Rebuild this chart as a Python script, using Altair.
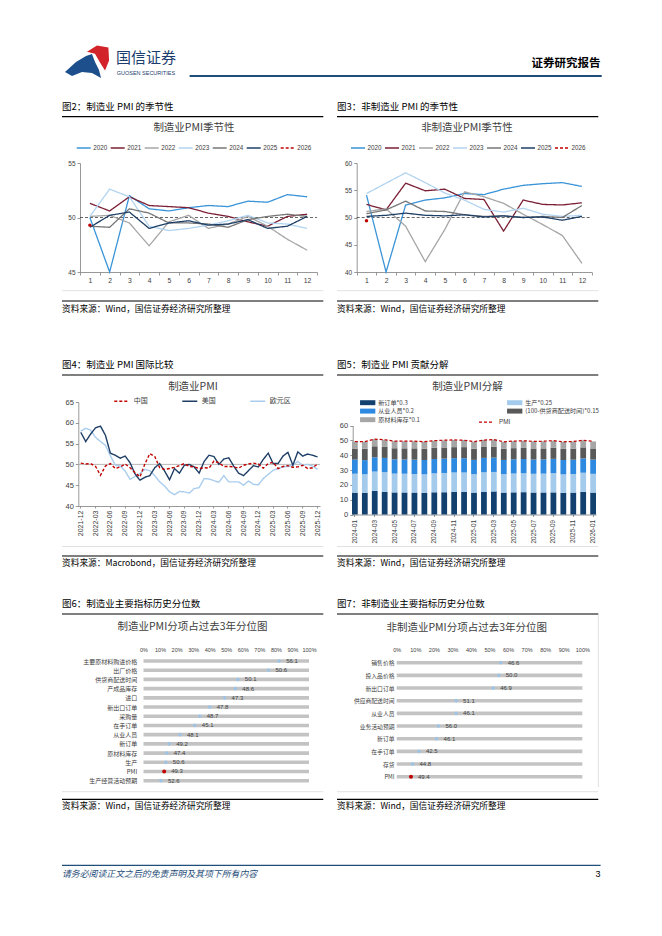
import altair as alt
import pandas as pd

# ---------------- data ----------------
YEARS = ["2020", "2021", "2022", "2023", "2024", "2025", "2026"]
YCOLORS = ["#3a94d8", "#7b1f34", "#a6a6a6", "#b3d4f0", "#777777", "#1e3f66", "#c00000"]
YDASH = [[1, 0], [1, 0], [1, 0], [1, 0], [1, 0], [1, 0], [3, 2]]

MFG = {
    "2020": [50.0, 35.7, 52.0, 50.8, 50.6, 50.9, 51.1, 51.0, 51.5, 51.4, 52.1, 51.9],
    "2021": [51.3, 50.6, 51.9, 51.1, 51.0, 50.9, 50.4, 50.1, 49.6, 49.2, 50.1, 50.3],
    "2022": [50.1, 50.2, 49.5, 47.4, 49.6, 50.2, 49.0, 49.4, 50.1, 49.2, 48.0, 47.0],
    "2023": [50.1, 52.6, 51.9, 49.2, 48.8, 49.0, 49.3, 49.7, 50.2, 49.5, 49.4, 49.0],
    "2024": [49.2, 49.1, 50.8, 50.4, 49.5, 49.5, 49.4, 49.1, 49.8, 50.1, 50.3, 50.1],
    "2025": [49.1, 50.2, 50.5, 49.0, 49.5, 49.7, 49.3, 49.4, 49.8, 49.0, 49.2, 50.1],
    "2026": [49.3],
}
NMFG = {
    "2020": [54.1, 29.6, 52.3, 53.2, 53.6, 54.4, 54.2, 55.2, 55.9, 56.2, 56.4, 55.7],
    "2021": [52.4, 51.4, 56.3, 54.9, 55.2, 53.5, 53.3, 47.5, 53.2, 52.4, 52.3, 52.7],
    "2022": [51.1, 51.6, 48.4, 41.9, 47.8, 54.7, 53.8, 52.6, 50.6, 48.7, 46.7, 41.6],
    "2023": [54.4, 56.3, 58.2, 56.4, 54.5, 53.2, 51.5, 51.0, 51.7, 50.6, 50.2, 50.4],
    "2024": [50.7, 51.4, 53.0, 51.2, 51.1, 50.5, 50.2, 50.3, 50.0, 50.2, 50.0, 52.2],
    "2025": [50.2, 50.4, 50.8, 50.4, 50.3, 50.5, 50.1, 50.3, 50.0, 50.1, 49.5, 50.2],
    "2026": [49.4],
}

MONTHS4 = ["2021-12"] + [f"{y}-{m:02d}" for y in (2022, 2023, 2024, 2025) for m in range(1, 13)]
MONTHS4_TICKS = MONTHS4[::3]
SERIES4 = ["中国", "美国", "欧元区"]
COLORS4 = ["#c00000", "#1f3f66", "#a9cdee"]
US = [57.7,
      55.5, 57.3, 58.8, 59.2, 57.0, 52.7, 52.2, 51.5, 52.0, 50.4, 47.7, 46.2,
      46.9, 47.3, 49.2, 50.2, 48.4, 46.3, 49.0, 47.9, 49.8, 50.0, 49.4, 47.9,
      50.7, 52.2, 51.9, 50.0, 51.3, 51.6, 49.6, 47.9, 47.3, 48.5, 49.7, 49.4,
      51.2, 52.7, 50.2, 50.2, 52.0, 52.9, 49.8, 53.0, 52.0, 52.5, 52.2, 51.8]
EZ = [58.0,
      58.7, 58.2, 56.5, 55.5, 54.6, 52.1, 49.8, 49.6, 48.4, 46.4, 47.1, 47.8,
      48.8, 48.5, 47.3, 45.8, 44.8, 43.4, 42.7, 43.5, 43.4, 43.1, 44.2, 44.4,
      46.6, 46.5, 46.1, 45.7, 47.3, 45.8, 45.8, 45.8, 45.0, 46.0, 45.2, 45.1,
      46.6, 47.6, 48.6, 49.0, 49.4, 49.5, 49.8, 50.7, 49.8, 50.0, 49.6, 48.8]
CN = [50.3] + MFG["2022"] + MFG["2023"] + MFG["2024"] + MFG["2025"]

MONTHS5 = [f"{y}-{m:02d}" for y in (2024, 2025) for m in range(1, 13)] + ["2026-01"]
MONTHS5_TICKS = MONTHS5[::2]
PMI5 = MFG["2024"] + MFG["2025"] + MFG["2026"]
NEW_ORDERS = [49.0, 49.0, 53.0, 51.1, 49.6, 49.5, 49.3, 48.9, 49.9, 50.0, 50.8, 51.0,
              49.2, 51.1, 51.8, 49.2, 49.8, 50.2, 49.4, 49.5, 49.7, 48.8, 49.2, 50.8, 49.2]
PRODUCTION = [51.3, 49.8, 52.2, 52.9, 50.8, 50.6, 50.1, 49.8, 51.2, 52.0, 52.4, 52.1,
              49.8, 52.5, 52.6, 49.8, 50.7, 51.0, 50.5, 50.8, 51.9, 49.7, 50.0, 51.7, 50.6]
EMPLOYMENT = [47.6, 47.5, 48.1, 48.0, 48.1, 48.1, 48.3, 48.1, 48.2, 48.4, 48.2, 48.1,
              48.1, 48.6, 48.2, 47.9, 48.1, 48.0, 48.0, 47.9, 48.2, 48.3, 48.4, 48.2, 48.1]
DELIVERY = [50.8, 48.8, 50.6, 50.4, 50.2, 50.1, 49.3, 49.6, 49.8, 50.1, 50.5, 50.2,
            50.1, 51.0, 50.3, 50.2, 50.0, 50.2, 50.3, 50.5, 50.8, 50.0, 50.1, 50.4, 50.1]
INVENTORY = [48.1, 47.4, 48.1, 47.8, 47.6, 47.6, 47.8, 47.6, 47.5, 47.3, 48.2, 48.3,
             47.4, 48.0, 47.2, 47.0, 47.4, 48.0, 48.0, 48.0, 48.5, 47.3, 47.7, 48.1, 47.4]
COMP5 = ["新订单*0.3", "生产*0.25", "从业人员*0.2", "(100-供货商配送时间)*0.15", "原材料库存*0.1"]
COLORS5 = ["#12406f", "#a4cbec", "#2d8ae0", "#595959", "#a6a6a6"]

CATS6 = ["主要原材料购进价格", "出厂价格", "供货商配送时间", "产成品库存", "进口", "新出口订单", "采购量",
         "在手订单", "从业人员", "新订单", "原材料库存", "生产", "PMI", "生产经营活动预期"]
PCT6 = [0.82, 0.755, 0.57, 0.555, 0.49, 0.40, 0.34, 0.31, 0.22, 0.155, 0.14, 0.135, 0.125, 0.105]
VAL6 = [56.1, 50.6, 50.1, 48.6, 47.3, 47.8, 48.7, 45.1, 48.1, 49.2, 47.4, 50.6, 49.3, 52.6]

CATS7 = ["销售价格", "投入品价格", "新出口订单", "供应商配送时间", "从业人员", "业务活动预期",
         "新订单", "在手订单", "存货", "PMI"]
PCT7 = [0.56, 0.55, 0.52, 0.32, 0.32, 0.225, 0.215, 0.12, 0.085, 0.077]
VAL7 = [46.6, 50.0, 46.9, 51.1, 46.1, 56.0, 46.1, 42.5, 44.8, 49.4]
PCT_TICKS = [0, 0.1, 0.2, 0.3, 0.4, 0.5, 0.6, 0.7, 0.8, 0.9, 1.0]

# ---------------- helpers ----------------
CJK = "Noto Sans CJK SC"
LAT = "Liberation Sans"
W, H = 646, 920
NAVY = "#1f4e79"


def X(x):
    return x - 8


def Y(y):
    return y - 8


DUMMY = pd.DataFrame({"k": [0]})


def txt(t, x, y, size, color="#000000", align="left", weight="normal", font=CJK, style="normal"):
    return alt.Chart(DUMMY).mark_text(
        text=t, align=align, baseline="middle", fontSize=size, color=color,
        font=font, fontWeight=weight, fontStyle=style
    ).encode(x=alt.value(X(x)), y=alt.value(Y(y)))


def hline(x1, x2, y, color="#000000", w=1.0):
    return alt.Chart(DUMMY).mark_rule(color=color, strokeWidth=w).encode(
        x=alt.value(X(x1)), x2=alt.value(X(x2)), y=alt.value(Y(y)))


def vline(x, y1, y2, color, w=1.0):
    return alt.Chart(DUMMY).mark_rule(color=color, strokeWidth=w).encode(
        x=alt.value(X(x)), y=alt.value(Y(y1)), y2=alt.value(Y(y2)))


def ax(**kw):
    base = dict(title=None, grid=False, labelFont=LAT, labelColor="#404040",
                domainColor="#7f7f7f", tickColor="#7f7f7f", domainWidth=0.8, tickWidth=0.8)
    base.update(kw)
    return alt.Axis(**base)


# ---------------- seasonality charts ----------------
def season(series, x0, x1, yb, yt, dom, vals, legx, legy):
    rows = [{"year": y, "m": i + 1, "v": v} for y, arr in series.items() for i, v in enumerate(arr)]
    df = pd.DataFrame(rows)
    leg = alt.Legend(orient="none", legendX=X(legx), legendY=Y(legy) - 7, direction="horizontal",
                     columns=7, symbolType="stroke", symbolSize=196, symbolStrokeWidth=1.5,
                     labelFont=LAT, labelFontSize=6.3, labelColor="#404040", labelOffset=1.5,
                     columnPadding=0, rowPadding=0, padding=0)
    xenc = alt.X("m:O", scale=alt.Scale(type="band", range=[X(x0), X(x1)], paddingInner=0, paddingOuter=0),
                 axis=ax(orient="bottom", offset=Y(yb) - H, tickBand="extent", tickSize=3, labelAngle=0,
                         labelFontSize=6.8, labelPadding=2))
    yenc = alt.Y("v:Q", scale=alt.Scale(domain=dom, range=[Y(yb), Y(yt)], clamp=True, nice=False, zero=False),
                 axis=ax(orient="left", offset=-X(x0), values=vals, format="d", tickSize=3, labelFontSize=6.5,
                         labelPadding=2))
    ref = alt.Chart(DUMMY).mark_rule(color="#404040", strokeWidth=0.8, strokeDash=[3, 2]).encode(
        y=alt.datum(50), x=alt.value(X(x0)), x2=alt.value(X(x1)))
    lines = alt.Chart(df).mark_line(strokeWidth=1.3).encode(
        x=xenc, y=yenc,
        color=alt.Color("year:N", title=None, scale=alt.Scale(domain=YEARS, range=YCOLORS), legend=leg),
        strokeDash=alt.StrokeDash("year:N", title=None, scale=alt.Scale(domain=YEARS, range=YDASH), legend=leg))
    dot = alt.Chart(df[df.year == "2026"]).mark_point(filled=True, color="#c00000", size=12, opacity=1).encode(
        x="m:O", y="v:Q")
    return alt.layer(ref, lines, dot)


fig2 = season(MFG, 80, 317, 272, 163, [45, 55], [45, 50, 55], 75.7, 146.7)
fig3 = season(NMFG, 356.7, 591.7, 272, 163, [40, 60], [40, 45, 50, 55, 60], 350, 146.7)

# ---------------- fig4: international ----------------
df4 = pd.DataFrame({"month": MONTHS4 * 3,
                    "series": ["欧元区"] * len(EZ) + ["美国"] * len(US) + ["中国"] * len(CN),
                    "v": EZ + US + CN})
leg4 = alt.Legend(orient="none", legendX=X(113.3), legendY=Y(400) - 7.5, direction="horizontal", columns=3,
                  symbolType="stroke", symbolSize=225, symbolStrokeWidth=1.5, labelFont=CJK,
                  labelFontSize=7, labelColor="#404040", labelOffset=3.4, columnPadding=31,
                  rowPadding=0, padding=0)
ref4 = alt.Chart(DUMMY).mark_rule(color="#a6a6a6", strokeWidth=0.8).encode(
    y=alt.datum(50), x=alt.value(X(78.3)), x2=alt.value(X(320)))
lines4 = alt.Chart(df4).mark_line(strokeWidth=1.4).encode(
    x=alt.X("month:O", sort=MONTHS4,
            scale=alt.Scale(type="band", domain=MONTHS4, range=[X(78.3), X(320)], paddingInner=0, paddingOuter=0),
            axis=ax(orient="bottom", offset=Y(506) - H, values=MONTHS4_TICKS, labelAngle=270, tickSize=2,
                    labelFontSize=7, labelPadding=2)),
    y=alt.Y("v:Q", scale=alt.Scale(domain=[40, 65], range=[Y(506), Y(402)], nice=False, zero=False),
            axis=ax(orient="left", offset=-X(78.3), values=[40, 45, 50, 55, 60, 65], tickSize=3,
                    labelFontSize=7.5, labelPadding=2)),
    color=alt.Color("series:N", title=None, scale=alt.Scale(domain=SERIES4, range=COLORS4), legend=leg4),
    strokeDash=alt.StrokeDash("series:N", title=None,
                              scale=alt.Scale(domain=SERIES4, range=[[3, 2], [1, 0], [1, 0]]), legend=leg4))
fig4 = alt.layer(ref4, lines4)

# ---------------- fig5: decomposition ----------------
weights = [0.3, 0.25, 0.2, 0.15, 0.1]
raw5 = [NEW_ORDERS, PRODUCTION, EMPLOYMENT, [100 - d for d in DELIVERY], INVENTORY]
rows5 = []
for k, (name, w, arr) in enumerate(zip(COMP5, weights, raw5)):
    for mth, v in zip(MONTHS5, arr):
        rows5.append({"month": mth, "comp": name, "val": round(v * w, 3), "ord": k})
df5 = pd.DataFrame(rows5)
dfp = pd.DataFrame({"month": MONTHS5, "pmi": PMI5, "s": ["PMI"] * len(MONTHS5)})
leg5 = alt.Legend(orient="none", legendX=X(363.2), legendY=Y(402.5) - 4.5, direction="horizontal", columns=2,
                  symbolType="M-1.7,-0.55L1.7,-0.55L1.7,0.55L-1.7,0.55Z", symbolSize=81, symbolStrokeWidth=0,
                  symbolOpacity=1, labelFont=CJK, labelFontSize=6.1, labelColor="#404040", labelOffset=6,
                  columnPadding=86, rowPadding=0.6, padding=0)
legp = alt.Legend(orient="none", legendX=X(478), legendY=Y(421.2) - 7.5, symbolType="stroke", symbolSize=225,
                  symbolStrokeWidth=1.2, symbolDash=[3, 2], labelFont=LAT, labelFontSize=6.3,
                  labelColor="#404040", labelOffset=4, padding=0)
x5 = alt.X("month:O", sort=MONTHS5,
           scale=alt.Scale(type="band", domain=MONTHS5, range=[X(352), X(596)], paddingInner=0.42, paddingOuter=0),
           axis=ax(orient="bottom", offset=Y(514.5) - H, values=MONTHS5_TICKS, labelAngle=270, tickSize=2,
                   labelFontSize=6.4, labelPadding=3))
bars5 = alt.Chart(df5).mark_bar().encode(
    x=x5,
    y=alt.Y("val:Q", stack="zero",
            scale=alt.Scale(domain=[0, 60], range=[Y(514.5), Y(425.5)], nice=False),
            axis=ax(orient="left", offset=-X(352.7), values=[0, 10, 20, 30, 40, 50, 60], tickSize=3,
                    labelFontSize=7.5, labelPadding=2)),
    color=alt.Color("comp:N", title=None, scale=alt.Scale(domain=COMP5, range=COLORS5), legend=leg5),
    order=alt.Order("ord:Q", sort="ascending"))
line5 = alt.Chart(dfp).mark_line(strokeWidth=1.2, strokeDash=[3, 2]).encode(
    x=alt.X("month:O", sort=MONTHS5), y="pmi:Q",
    stroke=alt.Stroke("s:N", title=None, scale=alt.Scale(domain=["PMI"], range=["#c00000"]), legend=legp))
fig5 = alt.layer(bars5, line5)


# ---------------- fig6 / fig7: percentile dot plots ----------------
def dotplot(cats, pct, vals, x0, x1, y0, y1, axis_y, label_x, cat_size):
    df = pd.DataFrame({"cat": cats, "pct": pct, "val": vals})
    yenc = alt.Y("cat:N", sort=cats,
                 scale=alt.Scale(type="point", domain=cats, range=[Y(y0), Y(y1)], padding=0),
                 axis=ax(orient="left", offset=-X(label_x + 2), domain=False, ticks=False, tickSize=0,
                         labelPadding=2, labelFont=CJK, labelFontSize=cat_size, labelColor="#404040"))
    xenc = alt.X("pct:Q", scale=alt.Scale(domain=[0, 1], range=[X(x0), X(x1)], nice=False, zero=False),
                 axis=ax(orient="top", offset=-Y(axis_y), values=PCT_TICKS, format=".0%", domain=False,
                         ticks=False, tickSize=0, labelPadding=2, labelFontSize=5.5, labelFlush=False))
    track = alt.Chart(df).mark_rule(color="#c3c3c3", strokeWidth=3.6).encode(
        y=yenc, x=alt.datum(0), x2=alt.datum(1))
    pts = alt.Chart(df[df.cat != "PMI"]).mark_point(filled=True, shape="diamond", size=18,
                                                    color="#9dc3e6", opacity=1).encode(x=xenc, y="cat:N")
    pmi = alt.Chart(df[df.cat == "PMI"]).mark_point(filled=True, shape="circle", size=16,
                                                    color="#c00000", opacity=1).encode(x="pct:Q", y="cat:N")
    lab = alt.Chart(df).mark_text(align="left", baseline="middle", dx=7, fontSize=6, color="#404040",
                                  font=LAT).encode(x="pct:Q", y="cat:N", text=alt.Text("val:Q", format=".1f"))
    return alt.layer(track, pts, pmi, lab)


fig6 = dotplot(CATS6, PCT6, VAL6, 143.5, 309, 661, 780.7, 654, 136.7, 6)
fig7 = dotplot(CATS7, PCT7, VAL7, 396.7, 582.3, 662.7, 776.7, 654, 394, 5.8)

# ---------------- page decorations ----------------
BLUE_LOGO = ("M-0.957,0.435L-0.478,0L-0.043,-0.261L0.217,-0.348L0.348,0L0.522,0.348L0.609,0.696"
             "L0.217,0.478L-0.217,0.435L-0.652,0.609Z")
RED_LOGO = "M0.0,-0.45L0.435,-0.72L0.93,-0.63L0.96,-0.07L0.783,0.37L0.565,0.02L0.348,-0.36Z"
logo_b = alt.Chart(DUMMY).mark_point(shape=BLUE_LOGO, filled=True, size=2116, color="#1d4f8c",
                                     opacity=1, strokeWidth=0).encode(x=alt.value(X(87)), y=alt.value(Y(62)))
logo_r = alt.Chart(DUMMY).mark_point(shape=RED_LOGO, filled=True, size=2116, color="#d2232a",
                                     opacity=1, strokeWidth=0).encode(x=alt.value(X(87)), y=alt.value(Y(62)))

SRC_W = "资料来源：Wind，国信证券经济研究所整理"
SRC_M = "资料来源：Macrobond，国信证券经济研究所整理"

decor = [
    logo_b, logo_r,
    txt("国信证券", 116, 58, 15, color="#1b3d6e"),
    txt("GUOSEN SECURITIES", 116.7, 72.5, 5.5, color="#1b3d6e", font=LAT),
    hline(189.6, 601.7, 76, NAVY, 2),
    txt("证券研究报告", 600.6, 63.5, 11.5, weight="bold", align="right"),
    # row 1
    txt("图2：制造业 PMI 的季节性", 62, 107, 9.5),
    hline(62, 323.3, 116.7, "#000000", 1.2),
    txt("制造业PMI季节性", 194, 128, 10.5, color="#404040", align="center"),
    hline(62, 323.3, 290.7, "#d9d9d9", 0.8),
    hline(62, 323.3, 301, "#000000", 1.2),
    txt(SRC_W, 62, 308.5, 8.7),
    txt("图3：非制造业 PMI 的季节性", 337, 107, 9.5),
    hline(337, 598.3, 116.7, "#000000", 1.2),
    txt("非制造业PMI季节性", 467, 128, 10.5, color="#404040", align="center"),
    hline(337, 598.3, 290.7, "#d9d9d9", 0.8),
    hline(337, 598.3, 301, "#000000", 1.2),
    txt(SRC_W, 337, 308.5, 8.7),
    # row 2
    txt("图4：制造业 PMI 国际比较", 62, 365, 9.5),
    hline(62, 323.3, 375, "#000000", 1.2),
    txt("制造业PMI", 193, 387, 10.5, color="#404040", align="center"),
    hline(62, 323.3, 546.5, "#d9d9d9", 0.8),
    hline(62, 323.3, 556, "#000000", 1.2),
    txt(SRC_M, 62, 563.3, 8.7),
    txt("图5：制造业 PMI 贡献分解", 337, 365, 9.5),
    hline(337, 598.3, 375, "#000000", 1.2),
    txt("制造业PMI分解", 467.5, 386.7, 10.5, color="#404040", align="center"),
    hline(337, 598.3, 546.5, "#d9d9d9", 0.8),
    hline(337, 598.3, 556, "#000000", 1.2),
    txt(SRC_W, 337, 563.3, 8.7),
    # row 3
    txt("图6：制造业主要指标历史分位数", 62, 604, 9.5),
    hline(62, 323.3, 614, "#000000", 1.2),
    txt("制造业PMI分项占过去3年分位图", 192.5, 627.3, 10.5, color="#404040", align="center"),
    hline(62, 323.3, 791.7, "#d9d9d9", 0.8),
    hline(62, 323.3, 799.3, "#000000", 1.2),
    txt(SRC_W, 62, 805.5, 8.7),
    txt("图7：非制造业主要指标历史分位数", 337, 604, 9.5),
    hline(337, 598.3, 614, "#000000", 1.2),
    txt("非制造业PMI分项占过去3年分位图", 466.7, 628, 10.5, color="#404040", align="center"),
    vline(598.3, 615, 787, "#d9d9d9", 0.8),
    hline(337, 598.3, 791.7, "#d9d9d9", 0.8),
    hline(337, 598.3, 799.3, "#000000", 1.2),
    txt(SRC_W, 337, 805.5, 8.7),
    # footer
    hline(62, 600.6, 865.4, NAVY, 1.3),
    txt("请务必阅读正文之后的免责声明及其项下所有内容", 62, 873.6, 8.9, color=NAVY, style="italic"),
    txt("3", 600.6, 873.6, 9, align="right", font=LAT),
]

chart = alt.layer(*decor, fig2, fig3, fig4, fig5, fig6, fig7).resolve_scale(
    x="independent", y="independent", color="independent", strokeDash="independent", stroke="independent"
).properties(
    width=W, height=H, padding=0, background="white",
    autosize=alt.AutoSizeParams(type="none")
).configure_view(stroke=None).configure_axis(grid=False)

chart.save("out.html", embed_options={"renderer": "svg", "actions": False})
